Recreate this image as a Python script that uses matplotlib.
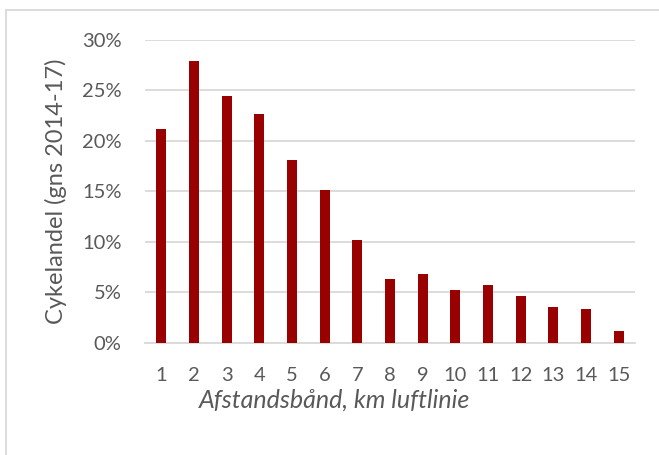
import matplotlib
matplotlib.use("Agg")
from matplotlib import pyplot as plt
from matplotlib.patches import Rectangle
from matplotlib.ticker import PercentFormatter

bands = [str(i) for i in range(1, 16)]
shares = [21.2, 27.9, 24.5, 22.7, 18.1, 15.1, 10.15, 6.35, 6.8, 5.2, 5.7, 4.65, 3.6, 3.4, 1.15]

plt.rcParams['font.family'] = ['Lato', 'DejaVu Sans']
grey = '#595959'

fig = plt.figure(figsize=(6.59, 4.55), dpi=100)
ax = fig.add_axes([0.22, 0.2462, 0.7436, 0.6659])

ax.bar(bands, shares, width=0.31, color='#990000', zorder=3)

ax.set_ylim(0, 30)
ax.set_xlim(-0.5, 14.5)
ax.set_yticks(range(0, 31, 5))
ax.yaxis.set_major_formatter(PercentFormatter(decimals=0))
ax.grid(axis='y', color='#d9d9d9', linewidth=1.3, zorder=0)
for s in ['top', 'right', 'left']:
    ax.spines[s].set_visible(False)
ax.spines['bottom'].set_color('#d9d9d9')
ax.spines['bottom'].set_linewidth(1.3)
ax.tick_params(length=0, labelsize=14.5, colors=grey)
ax.tick_params(axis='y', pad=17)
ax.tick_params(axis='x', pad=17)

ax.set_ylabel('Cykelandel (gns 2014-17)', fontsize=17, color=grey)
ax.yaxis.set_label_coords(-0.182, 0.5)
ax.yaxis.label.set_va('center')
ax.set_xlabel('Afstandsbånd, km luftlinie', fontsize=18, color=grey, style='italic')
ax.xaxis.set_label_coords(0.386, -0.152)

# outer chart border
fig.patches.append(Rectangle((6 / 659, -0.1), 1.2, 1 - 10 / 455 + 0.1,
                             transform=fig.transFigure, fill=False,
                             edgecolor='#d9d9d9', linewidth=1.3))

fig.savefig('out.png', dpi=100)
